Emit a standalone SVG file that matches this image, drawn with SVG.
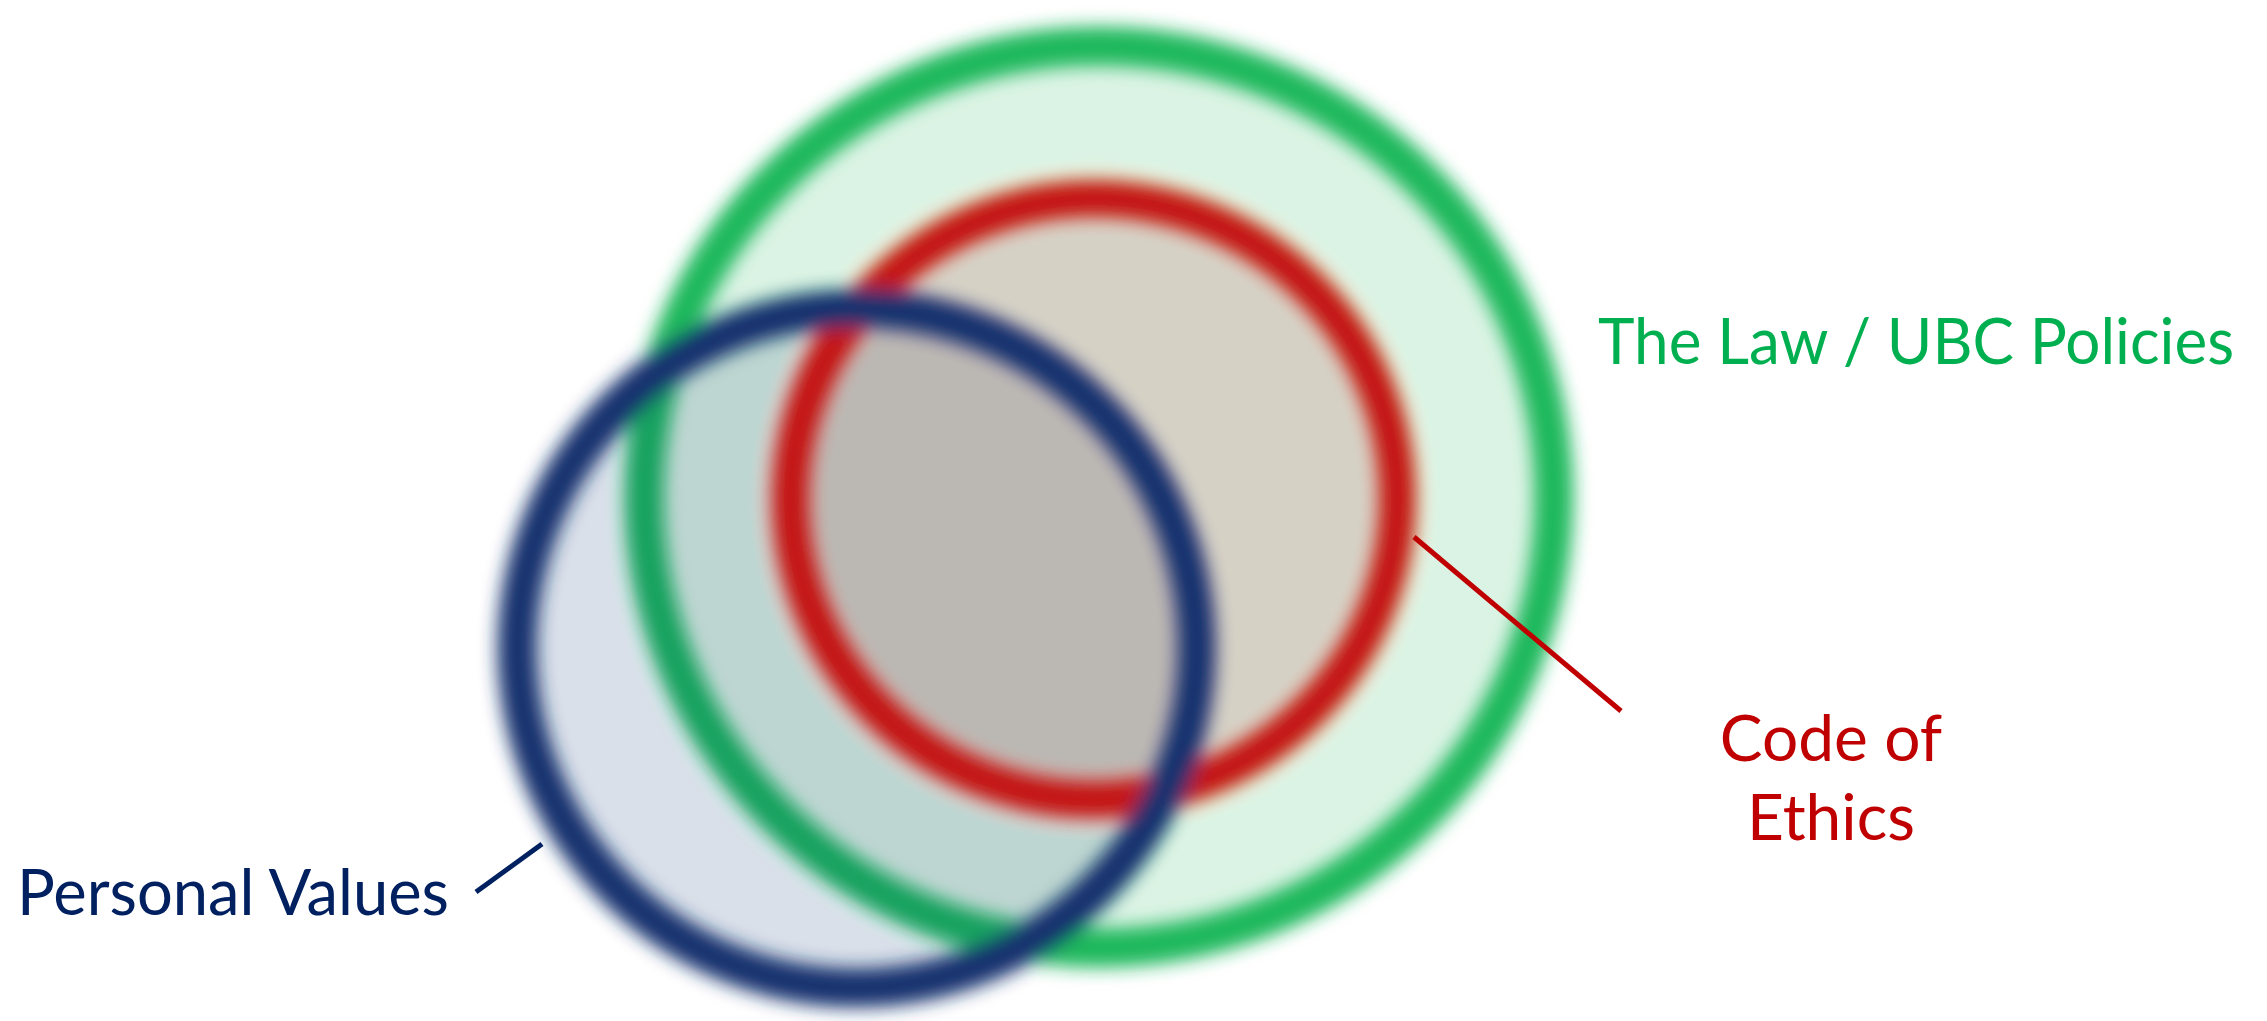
<svg xmlns="http://www.w3.org/2000/svg" width="2267" height="1021" viewBox="0 0 2267 1021">
<defs>
<filter id="soft" x="-15%" y="-15%" width="130%" height="130%"><feGaussianBlur stdDeviation="9"/></filter>
<style>
.lbl{font-family:Lato,"Open Sans","Liberation Sans",sans-serif;font-size:64px}
.ring{fill:none;stroke-width:39}
</style>
</defs>
<rect width="2267" height="1021" fill="#ffffff"/>
<g id="circles" filter="url(#soft)">
<g id="law"><ellipse cx="1099" cy="497" rx="455" ry="451" fill="#1db85c" fill-opacity="0.17"/><ellipse cx="1099" cy="497" rx="455" ry="451" class="ring" stroke="#1bb85c" stroke-width="42"/></g>
<g id="values-fill"><ellipse cx="857" cy="648" rx="340" ry="340" fill="#0e2a6b" fill-opacity="0.15"/></g>
<g id="ethics"><ellipse cx="1094" cy="499" rx="304" ry="301" fill="#c01010" fill-opacity="0.15"/><ellipse cx="1094" cy="499" rx="304" ry="301" class="ring" stroke="#c41414"/></g>
<g id="values"><ellipse cx="857" cy="648" rx="340" ry="340" class="ring" stroke="#13306e"/></g>
</g>
<g id="connectors">
<line x1="1414" y1="537" x2="1621" y2="711" stroke="#c00000" stroke-width="5"/>
<line x1="476" y1="892" x2="542" y2="844" stroke="#002060" stroke-width="5"/>
</g>
<g id="label-law"><text class="lbl" x="1598" y="364" fill="#00b050" textLength="636" lengthAdjust="spacingAndGlyphs">The Law / UBC Policies</text></g>
<g id="label-ethics"><text class="lbl" fill="#c00000" text-anchor="middle"><tspan x="1831" y="761">Code of</tspan><tspan x="1831" y="840">Ethics</tspan></text></g>
<g id="label-values"><text class="lbl" x="17" y="915" fill="#002060" textLength="432" lengthAdjust="spacingAndGlyphs">Personal Values</text></g>
</svg>
